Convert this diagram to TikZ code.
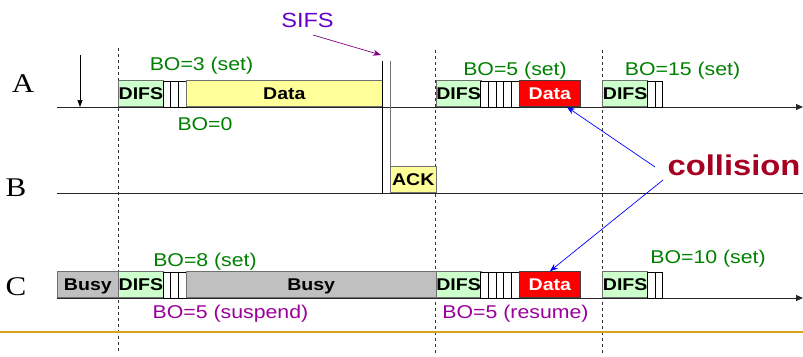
\documentclass[tikz,border=0pt]{standalone}
\usepackage{fontspec}
\setmainfont[FakeStretch=1.15]{Liberation Sans}
\newfontfamily\rowfont[FakeStretch=1.15]{Liberation Serif}
\usetikzlibrary{arrows.meta}
\definecolor{difsgreen}{HTML}{CCFFCC}
\definecolor{datayellow}{HTML}{FFFF99}
\definecolor{busygray}{HTML}{C0C0C0}
\definecolor{bogreen}{HTML}{008000}
\definecolor{bopurple}{HTML}{990099}
\definecolor{sifsviolet}{HTML}{6600CC}
\definecolor{sifsarrow}{HTML}{800080}
\definecolor{collred}{HTML}{A50021}
\definecolor{rulegold}{HTML}{D9A21B}
\definecolor{boxedge}{HTML}{707070}
\newcommand\boxfont{\bfseries\fontsize{17}{17}\selectfont}
\begin{document}
\begin{tikzpicture}[x=1pt,y=-1pt,
  seg/.style={draw=boxedge, line width=0.8pt, inner sep=0pt, minimum height=26pt,
    anchor=south west, font=\boxfont, text height=12pt, text depth=0pt, align=center},
  difs/.style={seg, fill=difsgreen, minimum width=45pt, text width=45pt},
  datay/.style={seg, fill=datayellow},
  datar/.style={seg, fill=red, text=white, draw=black!75},
  busy/.style={seg, fill=busygray},
  slot/.style={draw=black, fill=white, line width=0.6pt},
  timeline/.style={draw=black!85, line width=0.9pt},
  tarrow/.style={timeline, -{Triangle[length=7pt,width=6pt]}},
  divider/.style={draw=black!80, line width=0.6pt, dash pattern=on 3pt off 3pt},
  bolbl/.style={font=\fontsize{18.5}{20}\selectfont, text=bogreen, anchor=base, inner sep=0pt},
  bosusp/.style={bolbl, text=bopurple},
  rowlbl/.style={font=\rowfont\fontsize{27}{28}\selectfont, anchor=base, inner sep=0pt},
  hitarrow/.style={draw=blue, line width=0.7pt, -{Stealth[length=8pt,width=6pt]}},
]
\useasboundingbox (0,0) rectangle (803,356);

% vertical dashed dividers
\coordinate (d1t) at (118,48);   \coordinate (d1b) at (118,353);
\coordinate (d2t) at (435.7,50); \coordinate (d2b) at (435.7,353);
\coordinate (d3t) at (602.3,50); \coordinate (d3b) at (602.3,353);
\draw[divider] (d1t) -- (d1b);
\draw[divider] (d2t) -- (d2b);
\draw[divider] (d3t) -- (d3b);

% time lines
\coordinate (As) at (57,107);  \coordinate (Ae) at (803,107);
\coordinate (Bs) at (57,193);  \coordinate (Be) at (803,193);
\coordinate (Cs) at (57,298);  \coordinate (Ce) at (803,298);
\draw[tarrow] (As) -- (Ae);
\draw[timeline] (Bs) -- (Be);
\draw[tarrow] (Cs) -- (Ce);

% gold rule
\coordinate (gl) at (0,332); \coordinate (gr) at (803,332);
\draw[draw=rulegold, line width=1.5pt] (gl) -- (gr);

% row labels
\node[rowlbl] (lA) at (23,92.7) {A};
\node[rowlbl] (lB) at (16,196.7) {B};
\node[rowlbl] (lC) at (16,295.7) {C};

% ---- station A ----
\node[difs] (a1d) at (118,107) {DIFS};
\foreach \x in {163,170.6,178.2} \draw[slot] (\x,81) rectangle ++(7.6,26);
\node[datay, minimum width=196.3pt] (a1data) at (185.8,107) {Data};

\node[difs] (a2d) at (435.7,107) {DIFS};
\foreach \x in {480.7,488.36,496.02,503.68,511.34} \draw[slot] (\x,81) rectangle ++(7.66,26);
\node[datar, minimum width=61pt] (a2data) at (519,107) {Data};

\node[difs] (a3d) at (602.3,107) {DIFS};
\foreach \x in {647.3,655} \draw[slot] (\x,81) rectangle ++(7.7,26);

% ---- station B ----
\node[datay, minimum width=45.7pt] (back) at (390,193) {ACK};

% ---- station C ----
\node[busy, minimum width=61pt] (c0busy) at (57,298) {Busy};
\node[difs] (c1d) at (118,298) {DIFS};
\foreach \x in {163,170.6,178.2} \draw[slot] (\x,272) rectangle ++(7.6,26);
\node[busy, minimum width=249.9pt] (c1busy) at (185.8,298) {Busy};
\node[difs] (c2d) at (435.7,298) {DIFS};
\foreach \x in {480.7,488.36,496.02,503.68,511.34} \draw[slot] (\x,272) rectangle ++(7.66,26);
\node[datar, minimum width=61pt] (c2data) at (519,298) {Data};
\node[difs] (c3d) at (602.3,298) {DIFS};
\foreach \x in {647.3,655} \draw[slot] (\x,272) rectangle ++(7.7,26);

% SIFS gap lines
\coordinate (s1t) at (382.3,61); \coordinate (s1b) at (382.3,193);
\coordinate (s2t) at (390,61);
\draw[black, line width=0.9pt] (s1t) -- (s1b);
\draw[black!55, line width=0.9pt] (s2t) -- (back.north west);

% medium-busy arrow on A
\coordinate (dt) at (80,55); \coordinate (db) at (80,107);
\draw[black, line width=0.7pt, -{Triangle[length=7pt,width=5pt]}] (dt) -- (db);

% SIFS label and arrow
\node[font=\fontsize{20.5}{22}\selectfont, text=sifsviolet, anchor=base, inner sep=0pt] (sifs) at (307.5,27.3) {SIFS};
\coordinate (sf) at (313,35); \coordinate (st) at (381,55);
\draw[draw=sifsarrow, line width=0.7pt, -{Stealth[length=8pt,width=6pt]}] (sf) -- (st);

% backoff labels
\node[bolbl] (bo3) at (201.5,70) {BO=3 (set)};
\node[bolbl] (bo0) at (205,130) {BO=0};
\node[bolbl] (bo5) at (515,75) {BO=5 (set)};
\node[bolbl] (bo15) at (682.5,75) {BO=15 (set)};
\node[bolbl] (bo8) at (205,266.7) {BO=8 (set)};
\node[bosusp] (bo5s) at (230.5,318) {BO=5 (suspend)};
\node[bosusp] (bo5r) at (515.5,318) {BO=5 (resume)};
\node[bolbl] (bo10) at (708,263) {BO=10 (set)};

% collision
\node[font=\bfseries\fontsize{28.5}{30}\selectfont, text=collred, anchor=base, inner sep=0pt] (coll) at (734,175) {collision};
\coordinate (k1) at (655,167);
\coordinate (k2) at (663,180);
\coordinate (hitA) at ([xshift=17pt]a2data.south);
\draw[hitarrow] (k1) -- (hitA);
\draw[hitarrow] (k2) -- (c2data.north);
\end{tikzpicture}
\end{document}
